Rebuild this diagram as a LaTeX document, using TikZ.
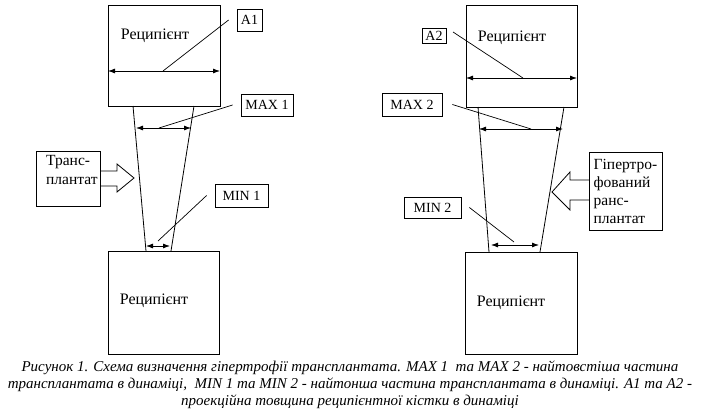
\documentclass[tikz,border=0pt]{standalone}
\usepackage{fontspec}
\setmainfont{Liberation Serif}
\usetikzlibrary{positioning,arrows.meta}

\tikzset{
  bone/.style={draw, line width=0.9pt, anchor=north west, inner sep=0pt},
  tag/.style={draw, line width=0.8pt, inner sep=0pt, font=\fontsize{14}{16}\selectfont},
  dim/.style={{Latex[length=7pt,width=5pt]}-{Latex[length=7pt,width=5pt]}, line width=0.8pt},
  lead/.style={line width=0.7pt},
  txt/.style={font=\fontsize{16}{18}\selectfont, inner sep=0pt},
}

\begin{document}
\begin{tikzpicture}[x=1pt, y=-1pt]

    \useasboundingbox (0,0) rectangle (702,415);

    %% Left scheme

    % Recipient, top and bottom
    \node[bone, minimum width=112, minimum height=101] (rtopA) at (108,5) {};
    \node[txt] (rtopAtxt) at (155,36) {Реципієнт};
    \node[bone, minimum width=111, minimum height=103] (rbotA) at (108,251) {};
    \node[txt] (rbotAtxt) at (154,301) {Реципієнт};

    % Graft
    \draw[line width=0.8pt] (133,106) -- (146,251);
    \draw[line width=0.8pt] (194,106) -- (171,251);

    % Thickness A1
    \draw[dim] (108,71) -- (220,71);
    \node[tag, minimum width=25, minimum height=22] (a1) at (249.5,20) {A1};
    \draw[lead] ([xshift=-8pt]a1.west) -- (163,71);

    % MAX 1
    \draw[dim] (136,128) -- (191,128);
    \node[tag, minimum width=52, minimum height=22] (max1) at (267,105) {MAX 1};
    \draw[lead] ([xshift=-8pt]max1.west) -- (159,128);

    % MIN 1
    \draw[dim] (146,246) -- (170,246);
    \node[tag, minimum width=53, minimum height=23] (min1) at (241.5,195.5) {MIN 1};
    \draw[lead] ([xshift=-8pt]min1.west) -- (158,241);

    % Transplant label with block arrow
    \node[draw, line width=0.8pt, minimum width=64, minimum height=55] (trans) at (68,178.5) {};
    \node[txt, align=left, anchor=north west, font=\fontsize{15.5}{19}\selectfont] (transtxt) at (46,155) {Транс-\\плантат};
    \draw[line width=0.8pt] (100,171) -- (117,171) -- (117,164) -- (134,178)
        -- (117,192) -- (117,186) -- (100,186);

    %% Right scheme

    % Recipient, top and bottom
    \node[bone, minimum width=111, minimum height=102] (rtopB) at (466,5) {};
    \node[txt] (rtopBtxt) at (512,38) {Реципієнт};
    \node[bone, minimum width=112, minimum height=102] (rbotB) at (465,252) {};
    \node[txt] (rbotBtxt) at (511,303) {Реципієнт};

    % Hypertrophied graft
    \draw[line width=0.8pt] (478,107) -- (489,252);
    \draw[line width=0.8pt] (564,107) -- (540,252);

    % Thickness A2
    \draw[dim] (466,78) -- (577,78);
    \node[tag, minimum width=24, minimum height=15] (a2) at (434,36) {A2};
    \draw[lead] (453,32) -- (523,78);

    % MAX 2
    \draw[dim] (479,129) -- (563,129);
    \node[tag, minimum width=60, minimum height=23] (max2) at (412,104.5) {MAX 2};
    \draw[lead] ([xshift=10pt]max2.east) -- (531,129);

    % MIN 2
    \draw[dim] (491,245) -- (539,245);
    \node[tag, minimum width=57, minimum height=21] (min2) at (432.5,207.5) {MIN 2};
    \draw[lead] ([xshift=8pt]min2.east) -- (514,242);

    % Hypertrophied label with block arrow
    \node[draw, line width=0.8pt, minimum width=73, minimum height=78,
          align=left, font=\fontsize{15.5}{18}\selectfont] (hyper) at (625.5,191)
          {Гіпертро-\\фований\\ранс-\\плантат};
    \draw[line width=0.8pt] (589,180) -- (570,180) -- (570,172) -- (552,192)
        -- (570,210) -- (570,200) -- (589,200);

    %% Caption
    \node[align=center, inner sep=0pt, font=\itshape\fontsize{15}{17}\selectfont] (caption) at (350,385)
        {Рисунок 1. Схема визначення гіпертрофії трансплантата. MAX 1\ \ та MAX 2 - найтовстіша частина\\
         трансплантата в динаміці,\ \ MIN 1 та MIN 2 - найтонша частина трансплантата в динаміці. A1 та A2 -\\
         проекційна товщина реципієнтної кістки в динаміці};

\end{tikzpicture}
\end{document}
